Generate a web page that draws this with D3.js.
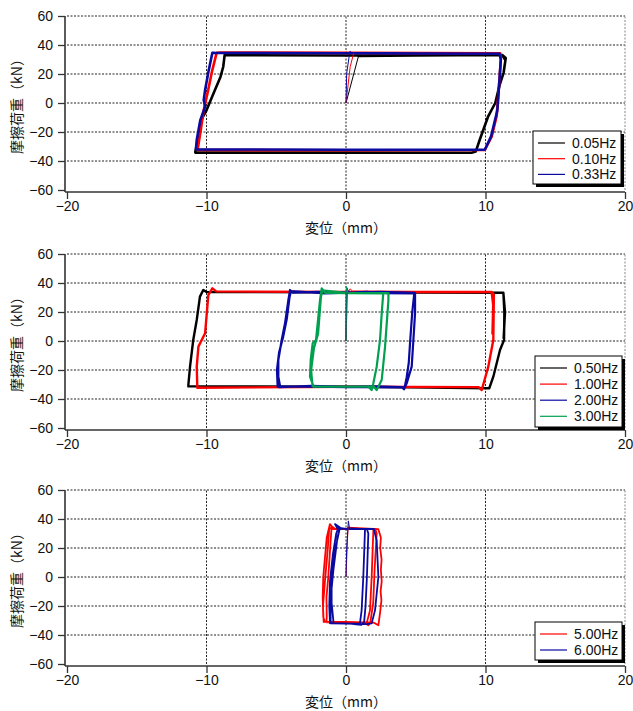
<!DOCTYPE html>
<html>
<head>
<meta charset="utf-8">
<script src="https://cdn.jsdelivr.net/npm/d3@7"></script>
<style>
body{margin:0;background:#fff}
text{font-family:"Liberation Sans",Arial,sans-serif}
</style>
</head>
<body>
<div id="chart"></div>
<script>
// axis ticks and titles
const xTicks = [-20, -10, 0, 10, 20];
const yTicks = [-60, -40, -20, 0, 20, 40, 60];
const xTitle = "変位（mm）";
const yTitle = "摩擦荷重（kN）";

// panel 1 : 0.05 / 0.10 / 0.33 Hz   ([displacement mm, load kN])
const p1Names = ["0.05Hz", "0.10Hz", "0.33Hz"];
const p1Init = [
  [[0,0],[0.9,32.5]],
  [[0,0],[0.3,25],[0.55,34.3]],
  [[0,0],[0.05,20.5],[0.28,35.6],[0.5,34.2]]
];
const p1Loop = [
  [[0.9,32.5],[5,32.8],[11.2,33.1],[11.45,31],[11.3,21],[11.0,12],[10.7,0],[10.2,-9],[9.6,-25],[9.3,-33.5],[9.0,-34.3],[0,-34.2],[-10.8,-34.2],
   [-10.8,-33.5],[-10.6,-25],[-10.4,-12],[-10.0,-5],[-9.5,6.5],[-9.0,18],[-8.8,25],[-8.7,33],[0,32.8],[11.2,33.1],[11.4,30]],
  [[0.55,34.3],[5,34.5],[11.05,34.2],[11.1,30],[11.0,16],[10.8,-9],[10.45,-23],[9.95,-32.4],[0,-32.6],[-10.65,-32.4],[-10.6,-30],
   [-10.4,-18],[-10.2,-5],[-9.9,8],[-9.6,22],[-9.27,34.7],[-9,34.8],[0,34.6],[11.05,34.2]],
  [[0.5,34.2],[5,34.1],[11.0,34],[11.1,30],[11.0,16],[10.85,-5],[10.6,-15],[10.4,-23],[9.95,-32.2],[0,-32.2],[-10.75,-32],[-10.75,-31],
   [-10.7,-25.5],[-10.45,-12],[-10.1,-2.5],[-10.2,2],[-10.1,9],[-9.85,22],[-9.58,34.7],[-9.4,34.6],[0,34.3],[11.0,34]]
];

// panel 2 : 0.50 / 1.00 / 2.00 / 3.00 Hz
const p2Names = ["0.50Hz", "1.00Hz", "2.00Hz", "3.00Hz"];
const p2Init = [
  [[0,0],[0.02,33.5]],
  [[0,0],[0.1,33],[0.3,36],[0.5,34]],
  [[0,0],[0.05,37],[0.2,33.5]],
  [[0,0],[0.02,37.5],[0.15,33]]
];
const p2Loop = [
  [[0.02,33.5],[5,33.5],[11.28,33.3],[11.35,20],[11.33,0.7],[11.04,-6.2],[10.56,-24.6],[10.27,-32.6],[0,-31.5],[-11.3,-31.3],[-11.3,-30.3],
   [-11.18,-17.7],[-10.95,0.7],[-10.7,14.5],[-10.47,30.6],[-10.23,35.2],[-10.0,33.8],[0,33.6],[11.28,33.3],[11.4,20],[11.3,2]],
  [[0.5,34],[5,33.8],[10.44,33.8],[10.6,32],[10.56,0.7],[10.2,-17.7],[9.73,-33.8],[9.5,-31.8],[0,-31.6],[-10.66,-32.2],[-10.66,-31.5],
   [-10.7,-17.7],[-10.58,-3.9],[-10.1,5.3],[-9.87,31.7],[-9.58,36.3],[-9.3,34.2],[0,33.8],[10.44,33.8],[10.55,25],[10.5,5]],
  [[0.2,33.3],[1.5,33.9],[3,32.8],[4.95,33],[4.95,19.1],[4.83,0.7],[4.71,-17.7],[4.35,-29.2],[4.16,-33.3],[4.0,-31.8],[2,-31.2],[0,-31.6],
   [-2.5,-31],[-4.8,-31.9],[-4.73,-31],[-4.85,-24.6],[-4.85,-13.1],[-4.61,0.7],[-4.37,12.2],[-4.13,28.3],[-4.01,35.2],[-3.8,33.3],
   [-2,33.9],[0,33.4],[2.5,33.9],[4.9,33.2],[4.75,20],[4.6,0],[4.5,-15],[4.35,-25],[4.2,-32],[2,-31.9],[0,-31.8],[-2.8,-31.3],[-4.9,-31.5],
   [-4.95,-20],[-4.8,-8],[-4.5,3],[-4.25,15],[-4.05,30],[-3.95,34.5],[-1.5,32.9],[0,33.4],[4.9,33]],
  [[0.15,33],[2.67,32.9],[2.56,19.1],[2.44,0.7],[2.2,-17.7],[1.96,-29.2],[1.84,-33.8],[1.6,-31.5],[0,-31.4],[-2.34,-31.5],[-2.34,-31],
   [-2.58,-24.6],[-2.53,-13.1],[-2.39,-1.6],[-2.15,0.7],[-1.86,28.3],[-1.74,36.3],[-1.5,33.2],[0,33],[3.04,33],[3.04,28],[2.8,-3.9],
   [2.56,-26.9],[2.2,-33.8],[2.0,-31.5],[0,-31.5],[-2.4,-31.2],[-2.5,-20],[-2.3,-5],[-2.0,5],[-1.8,30],[-1.7,35],[0,33.2],[2.67,33]]
];

// panel 3 : 5.00 / 6.00 Hz
const p3Names = ["5.00Hz", "6.00Hz"];
const p3Init = [
  [[0,0],[0.1,25],[0.15,34]],
  [[0,0],[0.05,20],[0.17,38.7],[0.25,33.5]]
];
const p3Loop = [
  [[0.15,34],[2.32,33],[2.5,27],[2.45,20],[2.55,12],[2.5,5],[2.56,-3],[2.48,-10],[2.54,-16],[2.45,-24],[2.32,-33.3],[2.0,-31.5],[0,-31],
   [-1.51,-31],[-1.63,-27.6],[-1.67,-13.8],[-1.63,0],[-1.38,27.3],[-1.15,36.5],[-0.9,33.2],[0,33.1],[1.96,33],[1.96,32],[1.84,0],
   [1.72,-23],[1.48,-32],[1.2,-31.3],[0,-31],[-1.4,-31.2],[-1.38,-27.6],[-1.4,-14],[-1.27,0],[-1.1,25],[-1.03,35],[-0.8,33.3],[0,33],
   [2.1,33.2],[2.2,30],[2.05,5],[1.95,-18],[1.75,-31],[1.6,-33.3],[1.3,-31.5],[0,-31.2],[-1.6,-31],[-1.65,-20],[-1.5,-2],[-1.3,20],
   [-1.2,34],[-1.0,33.2],[0,33.1],[2.32,33]],
  [[0.25,33.5],[1.36,33],[1.36,32],[1.24,0],[1.12,-23],[1.0,-32],[0.8,-32.1],[0,-32.1],[-0.91,-32],[-0.91,-29.8],[-1.03,-18],[-1.03,0],
   [-0.79,18.2],[-0.43,34.2],[-0.79,36.5],[-0.6,33.3],[0,33.2],[1.5,33.1],[1.6,30],[1.5,0],[1.4,-20],[1.3,-31],[1.1,-33],[0,-32],
   [-1.15,-31.8],[-1.2,-20],[-1.15,-3],[-0.95,15],[-0.7,30],[-0.55,34],[0,33.2],[2.0,33.1],[2.2,25],[2.32,0],[2.08,-23],[1.84,-32],
   [1.5,-32.5],[0,-32.1],[-1.1,-32],[-1.1,-15],[-0.9,5],[-0.6,28],[-0.45,33.5],[0,33],[1.36,33]]
];

// ---------------- drawing ----------------
const width = 633, height = 711;
const colorOf = {
  "0.05Hz":"#000000","0.10Hz":"#ff0000","0.33Hz":"#0a0aa0",
  "0.50Hz":"#000000","1.00Hz":"#ff0000","2.00Hz":"#0a0aa0","3.00Hz":"#00a050",
  "5.00Hz":"#ff0000","6.00Hz":"#0a0aa0"
};

const svg = d3.select("#chart").append("svg")
  .attr("width", width).attr("height", height)
  .style("display","block");

const x = d3.scaleLinear().domain([-20, 20]).range([67, 625]);

const panels = [
  {top:16,  names:p1Names, init:p1Init, loop:p1Loop, lw:[2.6,2.6,2.6], legend:{x:533,y:131,w:88,h:53,row:15.7}},
  {top:254, names:p2Names, init:p2Init, loop:p2Loop, lw:[2.4,2.4,2.2,2.2], legend:{x:535,y:356,w:87,h:71,row:16.1}},
  {top:490, names:p3Names, init:p3Init, loop:p3Loop, lw:[1.8,1.8], legend:{x:535,y:622,w:87,h:38,row:16}}
];

panels.forEach(p => drawPanel(p));

function drawPanel(p){
  const y = d3.scaleLinear().domain([-60, 60]).range([p.top + 174, p.top]);
  const g = svg.append("g");

  // grid (dotted)
  g.selectAll("line.hg").data(yTicks.filter(v => v > -60)).enter().append("line")
    .attr("x1", x(-20)).attr("x2", x(20))
    .attr("y1", d => y(d)).attr("y2", d => y(d))
    .attr("stroke", "#222").attr("stroke-width", 1).attr("stroke-dasharray", "2,1.5");
  g.selectAll("line.vg").data(xTicks.filter(v => v > -20)).enter().append("line")
    .attr("x1", d => x(d)).attr("x2", d => x(d))
    .attr("y1", y(-60)).attr("y2", y(60))
    .attr("stroke", d => d == 20 ? "#888" : "#222").attr("stroke-width", 1).attr("stroke-dasharray", "2,1.5");

  // curves
  const line = d3.line().x(d => x(d[0])).y(d => y(d[1]));
  p.loop.forEach((pts, i) => {
    g.append("path").attr("d", line(pts))
      .attr("fill", "none").attr("stroke", colorOf[p.names[i]])
      .attr("stroke-width", p.lw[i]).attr("stroke-linejoin", "round").attr("stroke-linecap", "round");
  });
  p.init.forEach((pts, i) => {
    g.append("path").attr("d", line(pts))
      .attr("fill", "none").attr("stroke", colorOf[p.names[i]])
      .attr("stroke-width", 1);
  });

  // axes (slightly offset from the plotting frame, as in the original)
  const axisY = y(-60) + 2, axisX = x(-20) - 2;
  const xAxis = g.append("g").attr("transform", `translate(0,${axisY})`)
    .call(d3.axisBottom(x).tickValues(xTicks).tickSize(7).tickPadding(2).tickSizeOuter(0));
  const yAxis = g.append("g").attr("transform", `translate(${axisX},0)`)
    .call(d3.axisLeft(y).tickValues(yTicks).tickSize(7).tickPadding(5).tickSizeOuter(0));
  [xAxis, yAxis].forEach(a => {
    a.select(".domain").remove();
    a.selectAll("line").attr("stroke", "#333").attr("stroke-width", 1.3);
    a.selectAll("text").attr("font-size", 14).attr("fill", "#111")
      .style("font-family", "'Liberation Sans', Arial, sans-serif");
  });
  g.append("line").attr("x1", axisX).attr("x2", x(20)).attr("y1", axisY).attr("y2", axisY)
    .attr("stroke", "#333").attr("stroke-width", 1.6);
  g.append("line").attr("x1", axisX).attr("x2", axisX).attr("y1", y(60)).attr("y2", axisY)
    .attr("stroke", "#333").attr("stroke-width", 1.6);

  // titles
  g.append("text").attr("x", x(0)).attr("y", y(-60) + 43)
    .attr("text-anchor", "middle").attr("font-size", 14).attr("fill", "#111")
    .style("font-family", "'Noto Sans CJK JP', sans-serif").text(xTitle);
  g.append("text").attr("transform", `translate(22,${y(0)}) rotate(-90)`)
    .attr("text-anchor", "middle").attr("font-size", 14).attr("fill", "#111")
    .style("font-family", "'Noto Sans CJK JP', sans-serif").text(yTitle);

  // legend box with shadow
  const L = p.legend;
  g.append("rect").attr("x", L.x + 3).attr("y", L.y + 3).attr("width", L.w).attr("height", L.h).attr("fill", "#000");
  g.append("rect").attr("x", L.x).attr("y", L.y).attr("width", L.w).attr("height", L.h)
    .attr("fill", "#fff").attr("stroke", "#000").attr("stroke-width", 1);
  p.names.forEach((nm, i) => {
    const cy = L.y + 12 + i * L.row;
    g.append("line").attr("x1", L.x + 5).attr("x2", L.x + 32).attr("y1", cy).attr("y2", cy)
      .attr("stroke", colorOf[nm]).attr("stroke-width", 1.2);
    g.append("text").attr("x", L.x + 39).attr("y", cy + 5).attr("font-size", 14).attr("fill", "#111").text(nm);
  });
}
</script>
</body>
</html>
